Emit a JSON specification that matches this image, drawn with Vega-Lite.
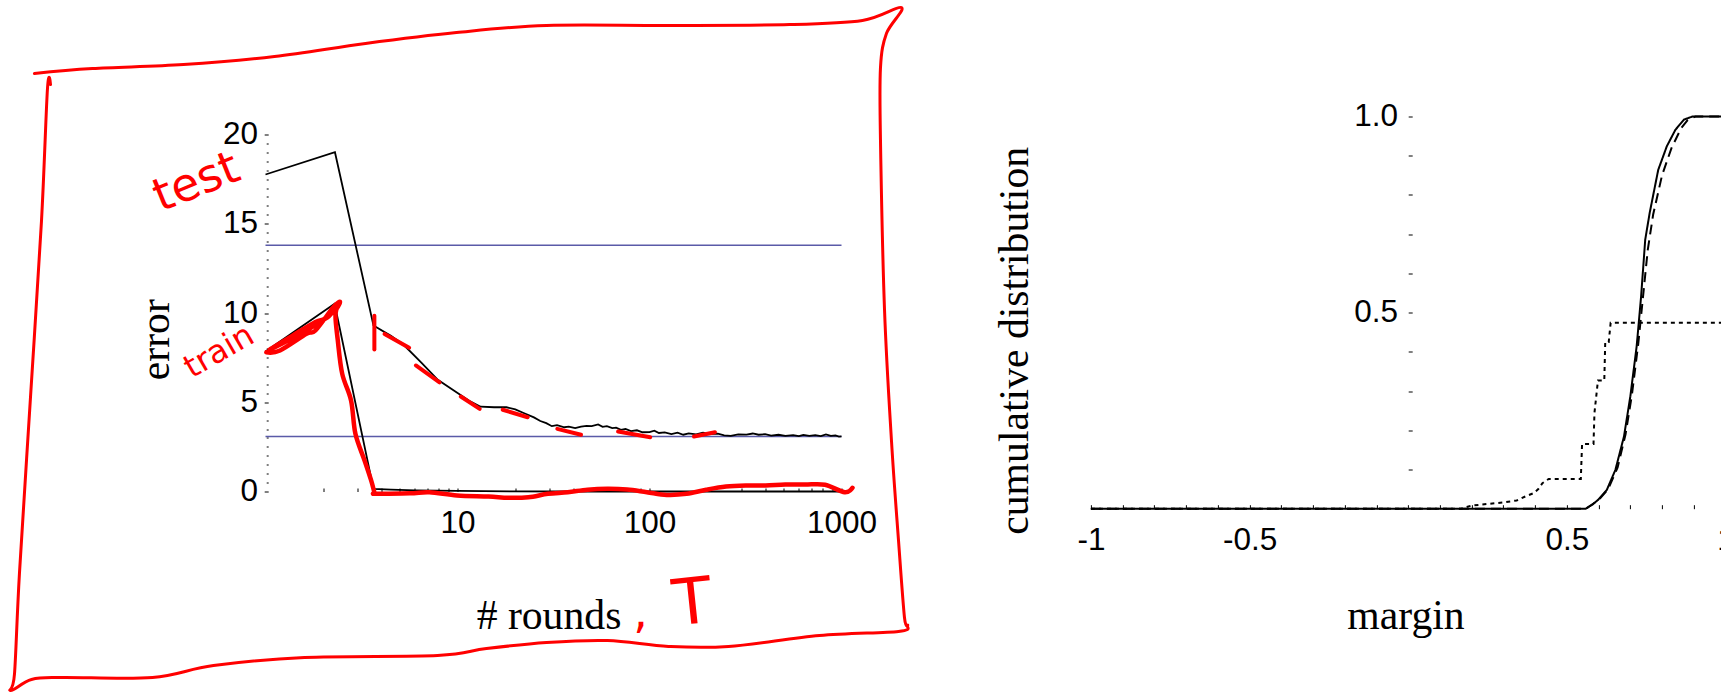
{
  "$schema": "https://vega.github.io/schema/vega-lite/v6.json",
  "background": "white",
  "padding": {"left": 7.5, "top": 5.5, "right": 0, "bottom": 0},
  "autosize": {"type": "pad"},
  "bounds": "flush",
  "spacing": 249.4,
  "config": {
    "view": {"stroke": null},
    "font": "Liberation Sans",
    "axis": {
      "domain": false,
      "grid": false,
      "tickColor": "black",
      "tickWidth": 1,
      "labelColor": "black",
      "labelFont": "Liberation Sans",
      "labelFontSize": 31.5,
      "labelFlush": false,
      "labelOverlap": false,
      "labelBound": false,
      "titleFont": "Liberation Serif",
      "titleFontSize": 41.7,
      "titleFontWeight": "normal",
      "titleColor": "black"
    }
  },
  "datasets": {
    "baselines": [
      {"x": 1, "x2": 1000, "y": 13.8},
      {"x": 1, "x2": 1000, "y": 3.08}
    ],
    "errors": [
      {"s": "test", "x": 1, "y": 17.76}, {"s": "test", "x": 2.3, "y": 19.01}, {"s": "test", "x": 3.65, "y": 9.3},
      {"s": "test", "x": 4.5, "y": 8.72}, {"s": "test", "x": 5.24, "y": 8.22}, {"s": "test", "x": 6.5, "y": 7.2},
      {"s": "test", "x": 7.9, "y": 6.26}, {"s": "test", "x": 9.7, "y": 5.62}, {"s": "test", "x": 11.5, "y": 5.08},
      {"s": "test", "x": 13.2, "y": 4.75}, {"s": "test", "x": 15.5, "y": 4.72}, {"s": "test", "x": 18, "y": 4.72},
      {"s": "test", "x": 20, "y": 4.6}, {"s": "test", "x": 22.1, "y": 4.4}, {"s": "test", "x": 25, "y": 4.15},
      {"s": "test", "x": 27, "y": 3.95}, {"s": "test", "x": 29, "y": 3.83}, {"s": "test", "x": 31, "y": 3.66},
      {"s": "test", "x": 33, "y": 3.72}, {"s": "test", "x": 36, "y": 3.6}, {"s": "test", "x": 38, "y": 3.63},
      {"s": "test", "x": 41, "y": 3.55}, {"s": "test", "x": 44, "y": 3.63}, {"s": "test", "x": 47, "y": 3.68},
      {"s": "test", "x": 50, "y": 3.66}, {"s": "test", "x": 54, "y": 3.76}, {"s": "test", "x": 57, "y": 3.62},
      {"s": "test", "x": 60, "y": 3.66}, {"s": "test", "x": 64, "y": 3.55}, {"s": "test", "x": 67, "y": 3.58},
      {"s": "test", "x": 71, "y": 3.45}, {"s": "test", "x": 75, "y": 3.5}, {"s": "test", "x": 80, "y": 3.38},
      {"s": "test", "x": 86, "y": 3.43}, {"s": "test", "x": 92, "y": 3.32}, {"s": "test", "x": 100, "y": 3.33},
      {"s": "test", "x": 106, "y": 3.41}, {"s": "test", "x": 112, "y": 3.28}, {"s": "test", "x": 120, "y": 3.31},
      {"s": "test", "x": 130, "y": 3.22}, {"s": "test", "x": 140, "y": 3.3}, {"s": "test", "x": 150, "y": 3.18},
      {"s": "test", "x": 160, "y": 3.26}, {"s": "test", "x": 175, "y": 3.2}, {"s": "test", "x": 190, "y": 3.3},
      {"s": "test", "x": 205, "y": 3.22}, {"s": "test", "x": 227, "y": 3.24}, {"s": "test", "x": 245, "y": 3.15},
      {"s": "test", "x": 265, "y": 3.12}, {"s": "test", "x": 290, "y": 3.2}, {"s": "test", "x": 320, "y": 3.19},
      {"s": "test", "x": 345, "y": 3.25}, {"s": "test", "x": 370, "y": 3.18}, {"s": "test", "x": 400, "y": 3.21},
      {"s": "test", "x": 430, "y": 3.13}, {"s": "test", "x": 470, "y": 3.18}, {"s": "test", "x": 510, "y": 3.12},
      {"s": "test", "x": 560, "y": 3.16}, {"s": "test", "x": 600, "y": 3.1}, {"s": "test", "x": 633, "y": 3.17},
      {"s": "test", "x": 680, "y": 3.12}, {"s": "test", "x": 730, "y": 3.16}, {"s": "test", "x": 780, "y": 3.1},
      {"s": "test", "x": 830, "y": 3.2}, {"s": "test", "x": 880, "y": 3.12}, {"s": "test", "x": 930, "y": 3.14},
      {"s": "test", "x": 970, "y": 3.08}, {"s": "test", "x": 1000, "y": 3.09},
      {"s": "train", "x": 1, "y": 7.85}, {"s": "train", "x": 2.29, "y": 10.52}, {"s": "train", "x": 3.65, "y": 0.15},
      {"s": "train", "x": 4.5, "y": 0.1}, {"s": "train", "x": 6, "y": 0.06}, {"s": "train", "x": 10, "y": 0.03},
      {"s": "train", "x": 20, "y": 0.01}, {"s": "train", "x": 40, "y": 0}, {"s": "train", "x": 1000, "y": 0}
    ],
    "testMarks": [
      {"g": 1, "x": 3.69, "y": 9.85}, {"g": 1, "x": 3.69, "y": 7.95},
      {"g": 2, "x": 4.17, "y": 8.83}, {"g": 2, "x": 5.6, "y": 8.05},
      {"g": 3, "x": 6.07, "y": 7.06}, {"g": 3, "x": 8.06, "y": 6.12},
      {"g": 4, "x": 10.4, "y": 5.32}, {"g": 4, "x": 13.05, "y": 4.63},
      {"g": 5, "x": 17.2, "y": 4.58}, {"g": 5, "x": 23.2, "y": 4.16},
      {"g": 6, "x": 33.1, "y": 3.51}, {"g": 6, "x": 44.0, "y": 3.18},
      {"g": 7, "x": 68.6, "y": 3.36}, {"g": 7, "x": 100.9, "y": 3.04},
      {"g": 8, "x": 170.5, "y": 3.08}, {"g": 8, "x": 219.3, "y": 3.32}
    ],
    "trainMark": [
      {"i": 1, "x": 1.01, "y": 7.8}, {"i": 2, "x": 1.19, "y": 7.9}, {"i": 3, "x": 1.635, "y": 8.83},
      {"i": 4, "x": 1.82, "y": 9.02}, {"i": 5, "x": 2.255, "y": 10.32}, {"i": 6, "x": 2.44, "y": 10.6},
      {"i": 7, "x": 2.1, "y": 9.75}, {"i": 8, "x": 1.82, "y": 9.5}, {"i": 9, "x": 1.39, "y": 8.75},
      {"i": 10, "x": 1.05, "y": 7.95}, {"i": 11, "x": 1.3, "y": 8.45}, {"i": 12, "x": 1.8, "y": 9.3},
      {"i": 13, "x": 2.3, "y": 10.15}, {"i": 14, "x": 2.44, "y": 10.55}, {"i": 15, "x": 2.315, "y": 9.96},
      {"i": 16, "x": 2.38, "y": 8.46}, {"i": 17, "x": 2.51, "y": 6.59}, {"i": 18, "x": 2.79, "y": 5.1},
      {"i": 19, "x": 2.94, "y": 3.23}, {"i": 20, "x": 3.28, "y": 1.74}, {"i": 21, "x": 3.55, "y": 0.62},
      {"i": 22, "x": 3.69, "y": -0.04}, {"i": 23, "x": 3.75, "y": -0.12}, {"i": 24, "x": 5.64, "y": -0.1},
      {"i": 25, "x": 7.14, "y": -0.04}, {"i": 26, "x": 9.95, "y": -0.22}, {"i": 27, "x": 14.5, "y": -0.28},
      {"i": 28, "x": 18.4, "y": -0.35}, {"i": 29, "x": 23.4, "y": -0.32}, {"i": 30, "x": 29.6, "y": -0.13},
      {"i": 31, "x": 37.5, "y": -0.04}, {"i": 32, "x": 47.6, "y": 0.1}, {"i": 33, "x": 60.4, "y": 0.15},
      {"i": 34, "x": 76.4, "y": 0.11}, {"i": 35, "x": 96.9, "y": -0.04}, {"i": 36, "x": 122.9, "y": -0.19},
      {"i": 37, "x": 156, "y": -0.13}, {"i": 38, "x": 197.4, "y": 0.1}, {"i": 39, "x": 250.3, "y": 0.28},
      {"i": 40, "x": 317.4, "y": 0.34}, {"i": 41, "x": 402, "y": 0.34}, {"i": 42, "x": 509, "y": 0.39},
      {"i": 43, "x": 646, "y": 0.39}, {"i": 44, "x": 820, "y": 0.38}, {"i": 45, "x": 1038, "y": -0.04},
      {"i": 46, "x": 1141, "y": 0.21}
    ],
    "frame": [
      {"i": 1, "x": 0.0626, "y": 23.42}, {"i": 2, "x": 0.1256, "y": 23.7}, {"i": 3, "x": 0.374, "y": 23.92},
      {"i": 4, "x": 1.114, "y": 24.37}, {"i": 5, "x": 3.318, "y": 25.1}, {"i": 6, "x": 9.88, "y": 25.71},
      {"i": 7, "x": 29.08, "y": 26.11}, {"i": 8, "x": 125.6, "y": 26.11}, {"i": 9, "x": 536, "y": 26.16},
      {"i": 10, "x": 1286, "y": 26.39}, {"i": 11, "x": 2053, "y": 27.11}, {"i": 12, "x": 1714, "y": 25.66},
      {"i": 13, "x": 1596, "y": 23.75}, {"i": 14, "x": 1596, "y": 19.66}, {"i": 15, "x": 1675, "y": 10.2},
      {"i": 16, "x": 1822, "y": 2.8}, {"i": 17, "x": 1981, "y": -2.74}, {"i": 18, "x": 2128, "y": -7.06},
      {"i": 19, "x": 2207, "y": -7.51}, {"i": 20, "x": 1981, "y": -7.84}, {"i": 21, "x": 768, "y": -8.07},
      {"i": 22, "x": 257.9, "y": -8.68}, {"i": 23, "x": 125.6, "y": -8.68}, {"i": 24, "x": 60.4, "y": -8.35},
      {"i": 25, "x": 29.08, "y": -8.46}, {"i": 26, "x": 14.16, "y": -8.8}, {"i": 27, "x": 7.87, "y": -9.19},
      {"i": 28, "x": 1.596, "y": -9.3}, {"i": 29, "x": 0.536, "y": -9.75}, {"i": 30, "x": 0.258, "y": -10.42},
      {"i": 31, "x": 0.0876, "y": -10.42}, {"i": 32, "x": 0.0604, "y": -10.53}, {"i": 33, "x": 0.047, "y": -11.15},
      {"i": 34, "x": 0.0493, "y": -10.2}, {"i": 35, "x": 0.0523, "y": -4.59}, {"i": 36, "x": 0.0597, "y": 5.27},
      {"i": 37, "x": 0.0681, "y": 15.13}, {"i": 38, "x": 0.0732, "y": 22.58}, {"i": 39, "x": 0.0759, "y": 22.8}
    ],
    "notes": [
      {"note": "test", "x": 0.437, "y": 17.31},
      {"note": "train", "x": 0.573, "y": 7.85},
      {"note": ",", "x": 89.8, "y": -7.67},
      {"note": "T", "x": 167.5, "y": -6.33}
    ],
    "margins": [
      {"s": "solid", "x": -1, "y": 0}, {"s": "solid", "x": 0.559, "y": 0}, {"s": "solid", "x": 0.58, "y": 0.01},
      {"s": "solid", "x": 0.599, "y": 0.023}, {"s": "solid", "x": 0.626, "y": 0.048}, {"s": "solid", "x": 0.653, "y": 0.099},
      {"s": "solid", "x": 0.68, "y": 0.184}, {"s": "solid", "x": 0.7, "y": 0.286}, {"s": "solid", "x": 0.72, "y": 0.414},
      {"s": "solid", "x": 0.734, "y": 0.541}, {"s": "solid", "x": 0.747, "y": 0.686}, {"s": "solid", "x": 0.761, "y": 0.754},
      {"s": "solid", "x": 0.788, "y": 0.864}, {"s": "solid", "x": 0.815, "y": 0.924}, {"s": "solid", "x": 0.842, "y": 0.966},
      {"s": "solid", "x": 0.869, "y": 0.992}, {"s": "solid", "x": 0.896, "y": 1.0}, {"s": "solid", "x": 1, "y": 1.0},
      {"s": "dashed", "x": -1, "y": 0}, {"s": "dashed", "x": 0.56, "y": 0}, {"s": "dashed", "x": 0.6, "y": 0.022},
      {"s": "dashed", "x": 0.63, "y": 0.05}, {"s": "dashed", "x": 0.66, "y": 0.105}, {"s": "dashed", "x": 0.685, "y": 0.19},
      {"s": "dashed", "x": 0.705, "y": 0.29}, {"s": "dashed", "x": 0.725, "y": 0.42}, {"s": "dashed", "x": 0.74, "y": 0.54},
      {"s": "dashed", "x": 0.755, "y": 0.66}, {"s": "dashed", "x": 0.772, "y": 0.75}, {"s": "dashed", "x": 0.8, "y": 0.85},
      {"s": "dashed", "x": 0.83, "y": 0.92}, {"s": "dashed", "x": 0.86, "y": 0.97}, {"s": "dashed", "x": 0.88, "y": 0.99},
      {"s": "dashed", "x": 0.905, "y": 1.0}, {"s": "dashed", "x": 1, "y": 1.0},
      {"s": "dotted", "x": -1, "y": 0}, {"s": "dotted", "x": 0.167, "y": 0}, {"s": "dotted", "x": 0.2, "y": 0.008},
      {"s": "dotted", "x": 0.25, "y": 0.012}, {"s": "dotted", "x": 0.3, "y": 0.016}, {"s": "dotted", "x": 0.342, "y": 0.021},
      {"s": "dotted", "x": 0.369, "y": 0.031}, {"s": "dotted", "x": 0.396, "y": 0.04}, {"s": "dotted", "x": 0.41, "y": 0.05},
      {"s": "dotted", "x": 0.423, "y": 0.065}, {"s": "dotted", "x": 0.443, "y": 0.076}, {"s": "dotted", "x": 0.544, "y": 0.076},
      {"s": "dotted", "x": 0.548, "y": 0.165}, {"s": "dotted", "x": 0.584, "y": 0.165}, {"s": "dotted", "x": 0.587, "y": 0.244},
      {"s": "dotted", "x": 0.598, "y": 0.327}, {"s": "dotted", "x": 0.618, "y": 0.327}, {"s": "dotted", "x": 0.621, "y": 0.425},
      {"s": "dotted", "x": 0.632, "y": 0.425}, {"s": "dotted", "x": 0.638, "y": 0.474}, {"s": "dotted", "x": 1, "y": 0.474}
    ]
  },
  "hconcat": [
    {
      "width": 576,
      "height": 375,
      "encoding": {
        "x": {
          "field": "x", "type": "quantitative",
          "scale": {"type": "log", "domain": [1, 1000], "nice": false},
          "axis": {
            "title": "# rounds",
            "values": [2, 3, 4, 5, 6, 7, 8, 9, 10, 20, 30, 40, 50, 60, 70, 80, 90, 100, 200, 300, 400, 500, 600, 700, 800, 900, 1000],
            "labelExpr": "datum.value == 10 || datum.value == 100 || datum.value == 1000 ? '' + datum.value : ''",
            "tickSize": -3.5,
            "labelPadding": 44.5,
            "labelBaseline": "alphabetic",
            "titleX": 283,
            "titleY": 137,
            "titleAlign": "center",
            "titleBaseline": "alphabetic"
          }
        },
        "y": {
          "field": "y", "type": "quantitative",
          "scale": {"domain": [0, 21.01], "nice": false, "zero": false},
          "axis": {
            "title": "error",
            "offset": -2.7,
            "values": [0, 0.5, 1, 1.5, 2, 2.5, 3, 3.5, 4, 4.5, 5, 5.5, 6, 6.5, 7, 7.5, 8, 8.5, 9, 9.5, 10, 10.5, 11, 11.5, 12, 12.5, 13, 13.5, 14, 14.5, 15, 15.5, 16, 16.5, 17, 17.5, 18, 18.5, 19, 19.5, 20],
            "labelExpr": "datum.value % 5 === 0 ? '' + datum.value : ''",
            "tickSize": {"condition": {"test": "datum.value % 5 === 0", "value": 4}, "value": 2},
            "labelPadding": 6.7,
            "titleX": -100.2,
            "titleY": 222.7,
            "titleAngle": 270,
            "titleAlign": "center",
            "titleBaseline": "alphabetic"
          }
        }
      },
      "layer": [
        {
          "data": {"name": "baselines"},
          "mark": {"type": "rule", "color": "#5a5aa8", "strokeWidth": 1.5},
          "encoding": {"x2": {"field": "x2"}}
        },
        {
          "data": {"name": "errors"},
          "mark": {"type": "line", "color": "black", "strokeWidth": 1.8},
          "encoding": {"detail": {"field": "s"}}
        },
        {
          "data": {"name": "testMarks"},
          "mark": {"type": "line", "color": "#ff0000", "strokeWidth": 4, "strokeCap": "round"},
          "encoding": {"detail": {"field": "g"}}
        },
        {
          "data": {"name": "trainMark"},
          "mark": {"type": "line", "color": "#ff0000", "strokeWidth": 4.5, "strokeCap": "round", "strokeJoin": "round", "interpolate": "cardinal"},
          "encoding": {"order": {"field": "i", "type": "quantitative"}}
        },
        {
          "data": {"name": "frame"},
          "mark": {"type": "line", "color": "#ff0000", "strokeWidth": 3, "strokeCap": "round", "strokeJoin": "round", "interpolate": "cardinal"},
          "encoding": {"order": {"field": "i", "type": "quantitative"}}
        },
        {
          "data": {"name": "notes"},
          "transform": [{"filter": "datum.note == 'test'"}],
          "mark": {"type": "text", "color": "#ff0000", "font": "DejaVu Sans", "fontSize": 46, "angle": -22, "align": "center", "baseline": "middle"},
          "encoding": {"text": {"field": "note"}}
        },
        {
          "data": {"name": "notes"},
          "transform": [{"filter": "datum.note == 'train'"}],
          "mark": {"type": "text", "color": "#ff0000", "font": "DejaVu Sans", "fontSize": 32, "angle": -30, "align": "center", "baseline": "middle"},
          "encoding": {"text": {"field": "note"}}
        },
        {
          "data": {"name": "notes"},
          "transform": [{"filter": "datum.note == ','"}],
          "mark": {"type": "text", "color": "#ff0000", "font": "DejaVu Sans", "fontSize": 46, "align": "center", "baseline": "alphabetic"},
          "encoding": {"text": {"field": "note"}}
        },
        {
          "data": {"name": "notes"},
          "transform": [{"filter": "datum.note == 'T'"}],
          "mark": {"type": "text", "color": "#ff0000", "font": "DejaVu Sans", "fontSize": 64, "angle": -6, "align": "center", "baseline": "middle"},
          "encoding": {"text": {"field": "note"}}
        }
      ]
    },
    {
      "width": 634.6,
      "height": 392.2,
      "data": {"name": "margins"},
      "mark": {"type": "line", "color": "black", "strokeWidth": 2},
      "encoding": {
        "x": {
          "field": "x", "type": "quantitative",
          "scale": {"domain": [-1, 1], "nice": false, "zero": false},
          "axis": {
            "title": "margin",
            "values": [-1, -0.9, -0.8, -0.7, -0.6, -0.5, -0.4, -0.3, -0.2, -0.1, 0, 0.1, 0.2, 0.3, 0.4, 0.5, 0.6, 0.7, 0.8, 0.9, 1],
            "labelExpr": "datum.value == -1 ? '-1' : datum.value == -0.5 ? '-0.5' : datum.value == 0.5 ? '0.5' : datum.value == 1 ? '1' : ''",
            "tickSize": -4,
            "labelPadding": 45.2,
            "labelBaseline": "alphabetic",
            "titleX": 314.6,
            "titleY": 119.8,
            "titleAlign": "center",
            "titleBaseline": "alphabetic"
          }
        },
        "y": {
          "field": "y", "type": "quantitative",
          "scale": {"domain": [0, 1], "nice": false},
          "axis": {
            "title": "cumulative distribution",
            "offset": -317.3,
            "values": [0.1, 0.2, 0.3, 0.4, 0.5, 0.6, 0.7, 0.8, 0.9, 1],
            "labelExpr": "datum.value == 0.5 ? '0.5' : datum.value == 1 ? '1.0' : ''",
            "tickSize": -4,
            "labelPadding": 14.7,
            "titleX": -381.1,
            "titleY": 223.8,
            "titleAngle": 270,
            "titleAlign": "center",
            "titleBaseline": "alphabetic"
          }
        },
        "strokeDash": {
          "field": "s", "type": "nominal",
          "scale": {"domain": ["solid", "dashed", "dotted"], "range": [[1, 0], [10, 6], [4, 4]]},
          "legend": null
        },
        "detail": {"field": "s"}
      }
    }
  ]
}
